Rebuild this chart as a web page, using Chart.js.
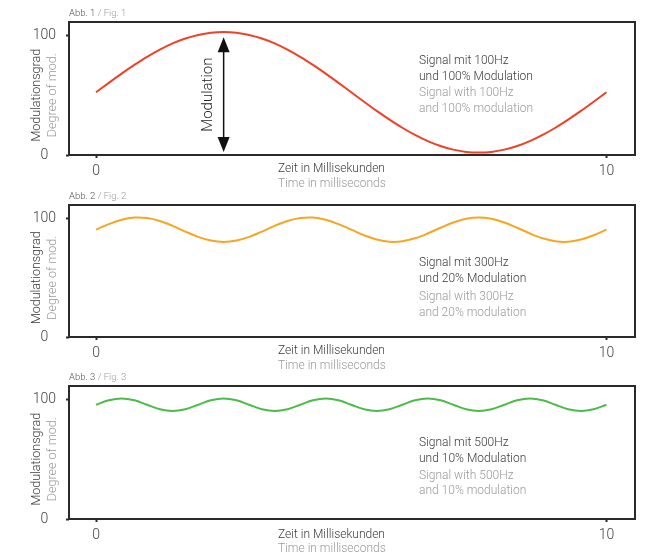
<!DOCTYPE html>
<html><head><meta charset="utf-8">
<script src="https://cdn.jsdelivr.net/npm/chart.js@4"></script>
<style>
html,body{margin:0;padding:0;background:#fff;}
#wrap{position:relative;width:651px;height:558px;overflow:hidden;}
canvas{position:absolute;left:0;top:0;}
</style></head><body>
<div id="wrap">
<canvas id="c1" width="651" height="558"></canvas>
<canvas id="c2" width="651" height="558"></canvas>
<canvas id="c3" width="651" height="558"></canvas>
</div>
<script>
// ---- data ----
const timeMs = [0,0.25,0.5,0.75,1,1.25,1.5,1.75,2,2.25,2.5,2.75,3,3.25,3.5,3.75,4,4.25,4.5,4.75,5,5.25,5.5,5.75,6,6.25,6.5,6.75,7,7.25,7.5,7.75,8,8.25,8.5,8.75,9,9.25,9.5,9.75,10];
const signal100Hz = [52.5,60.4,68.1,75.4,82.2,88.2,93.4,97.5,100.5,102.4,103,102.4,100.5,97.5,93.4,88.2,82.2,75.4,68.1,60.4,52.5,44.6,36.9,29.6,22.8,16.8,11.6,7.5,4.5,2.6,2,2.6,4.5,7.5,11.6,16.8,22.8,29.6,36.9,44.6,52.5];
const signal300Hz = [90.5,95.2,98.8,100.7,100.3,97.8,93.7,88.9,84.4,81.3,80.2,81.3,84.4,88.9,93.7,97.8,100.3,100.7,98.8,95.2,90.5,85.8,82.2,80.3,80.7,83.2,87.3,92.1,96.6,99.7,100.8,99.7,96.6,92.1,87.3,83.2,80.7,80.3,82.2,85.8,90.5];
const signal500Hz = [95.6,99.3,100.8,99.3,95.6,91.9,90.4,91.9,95.6,99.3,100.8,99.3,95.6,91.9,90.4,91.9,95.6,99.3,100.8,99.3,95.6,91.9,90.4,91.9,95.6,99.3,100.8,99.3,95.6,91.9,90.4,91.9,95.6,99.3,100.8,99.3,95.6,91.9,90.4,91.9,95.6];
const xTickValues = [0, 10];
const yTickValues = [0, 100];
const panelLabelsDe = ['Abb. 1', 'Abb. 2', 'Abb. 3'];
const panelLabelsEn = ['Fig. 1', 'Fig. 2', 'Fig. 3'];
const notesDe = [['Signal mit 100Hz', 'und 100% Modulation'], ['Signal mit 300Hz', 'und 20% Modulation'], ['Signal mit 500Hz', 'und 10% Modulation']];
const notesEn = [['Signal with 100Hz', 'and 100% modulation'], ['Signal with 300Hz', 'and 20% modulation'], ['Signal with 500Hz', 'and 10% modulation']];
const yTitleDe = 'Modulationsgrad';
const yTitleEn = 'Degree of mod.';
const xTitleDe = 'Zeit in Millisekunden';
const xTitleEn = 'Time in milliseconds';
const arrowLabel = 'Modulation';
const arrowTime = 2.5;
const arrowLow = 2.5;
const arrowHigh = 98.5;

// ---- layout / style ----
const W = 651, H = 558;
const FRAME_LEFT = 69, FRAME_RIGHT = 635, XAXIS_H = 32;
const panels = [
  {id: 'c1', data: signal100Hz, color: '#ee4128', top: 22, bottom: 155, noteY: [39, 55, 71, 87], xt: [14, 28.5], arrow: true},
  {id: 'c2', data: signal300Hz, color: '#f6a623', top: 205, bottom: 337, noteY: [58, 74, 92, 108], xt: [14, 28.5], arrow: false},
  {id: 'c3', data: signal500Hz, color: '#4cbb4a', top: 386, bottom: 519, noteY: [57, 73, 90, 105], xt: [15.5, 30], arrow: false}
];
const DARK = '#2a2a2a', TEXT = '#3a3a3a', GREY = '#9a9a9a';
const FF = 'Roboto, "Liberation Sans", sans-serif';
Chart.defaults.font.family = FF;
Chart.defaults.font.weight = '300';

function decor(idx) {
  const p = panels[idx];
  return {
    id: 'decor' + idx,
    afterDraw(chart) {
      const ctx = chart.ctx, a = chart.chartArea;
      const xs = chart.scales.x, ys = chart.scales.y;
      ctx.save();
      // frame
      ctx.strokeStyle = DARK; ctx.lineWidth = 2;
      ctx.strokeRect(a.left, a.top, a.right - a.left, a.bottom - a.top);
      // panel label
      ctx.font = '300 9.5px ' + FF;
      ctx.textBaseline = 'middle'; ctx.textAlign = 'left';
      ctx.fillStyle = '#555';
      const lab = panelLabelsDe[idx];
      ctx.fillText(lab, a.left, a.top - 8.5);
      const w1 = ctx.measureText(lab + ' ').width;
      ctx.fillStyle = GREY;
      ctx.fillText('/ ' + panelLabelsEn[idx], a.left + w1, a.top - 8.5);
      // y titles
      const yc = (ys.getPixelForValue(0) + ys.getPixelForValue(100)) / 2;
      ctx.font = '300 12.5px ' + FF;
      ctx.textAlign = 'center';
      ctx.save(); ctx.translate(37, yc); ctx.rotate(-Math.PI / 2);
      ctx.fillStyle = TEXT; ctx.fillText(yTitleDe, 0, 0); ctx.restore();
      ctx.save(); ctx.translate(53, yc); ctx.rotate(-Math.PI / 2);
      ctx.fillStyle = GREY; ctx.fillText(yTitleEn, 0, 0); ctx.restore();
      // x titles
      ctx.font = '300 12px ' + FF; ctx.textAlign = 'left';
      ctx.fillStyle = TEXT; ctx.fillText(xTitleDe, 278, a.bottom + p.xt[0]);
      ctx.fillStyle = GREY; ctx.fillText(xTitleEn, 278, a.bottom + p.xt[1]);
      // notes
      ctx.fillStyle = TEXT;
      ctx.fillText(notesDe[idx][0], 419, a.top + p.noteY[0]);
      ctx.fillText(notesDe[idx][1], 419, a.top + p.noteY[1]);
      ctx.fillStyle = GREY;
      ctx.fillText(notesEn[idx][0], 419, a.top + p.noteY[2]);
      ctx.fillText(notesEn[idx][1], 419, a.top + p.noteY[3]);
      // modulation arrow
      if (p.arrow) {
        const ax = xs.getPixelForValue(arrowTime);
        const yTop = ys.getPixelForValue(arrowHigh), yBot = ys.getPixelForValue(arrowLow);
        const hh = 15, hw = 6;
        ctx.strokeStyle = '#111'; ctx.fillStyle = '#111'; ctx.lineWidth = 1.5;
        ctx.beginPath(); ctx.moveTo(ax, yTop + hh - 2); ctx.lineTo(ax, yBot - hh + 2); ctx.stroke();
        ctx.beginPath(); ctx.moveTo(ax, yTop); ctx.lineTo(ax - hw, yTop + hh); ctx.lineTo(ax + hw, yTop + hh); ctx.closePath(); ctx.fill();
        ctx.beginPath(); ctx.moveTo(ax, yBot); ctx.lineTo(ax - hw, yBot - hh); ctx.lineTo(ax + hw, yBot - hh); ctx.closePath(); ctx.fill();
        ctx.font = '300 15px ' + FF; ctx.textAlign = 'center'; ctx.textBaseline = 'middle';
        ctx.save(); ctx.translate(ax - 15, (yTop + yBot) / 2); ctx.rotate(-Math.PI / 2);
        ctx.fillStyle = '#222'; ctx.fillText(arrowLabel, 0, 0); ctx.restore();
      }
      ctx.restore();
    }
  };
}

panels.forEach((p, idx) => {
  new Chart(document.getElementById(p.id), {
    type: 'line',
    data: {
      labels: timeMs,
      datasets: [{
        data: timeMs.map((t, i) => ({x: t, y: p.data[i]})),
        borderColor: p.color, borderWidth: 2, pointRadius: 0, tension: 0.35, fill: false
      }]
    },
    options: {
      responsive: false, animation: false, events: [],
      layout: {padding: {left: 0, top: p.top, right: W - FRAME_RIGHT, bottom: H - p.bottom - XAXIS_H}},
      plugins: {legend: {display: false}, tooltip: {enabled: false}, title: {display: false}},
      scales: {
        x: {
          type: 'linear', min: -0.53, max: 10.56,
          afterBuildTicks: s => { s.ticks = xTickValues.map(v => ({value: v})); },
          afterFit: s => { s.height = XAXIS_H; },
          grid: {drawOnChartArea: false, drawTicks: true, tickLength: 3, tickColor: DARK, tickWidth: 2},
          border: {display: false},
          ticks: {color: '#444', font: {size: 14, weight: '300'}, padding: 5, callback: v => String(v), maxRotation: 0}
        },
        y: {
          type: 'linear', min: 0, max: 111.3,
          afterBuildTicks: s => { s.ticks = yTickValues.map(v => ({value: v})); },
          afterFit: s => { s.width = FRAME_LEFT; },
          grid: {drawOnChartArea: false, drawTicks: true, tickLength: 3, tickColor: DARK, tickWidth: 2},
          border: {display: false},
          ticks: {color: '#444', font: {size: 14, weight: '300'}, padding: 10, crossAlign: 'center', callback: v => String(v)}
        }
      }
    },
    plugins: [decor(idx)]
  });
});
</script>
</body></html>
